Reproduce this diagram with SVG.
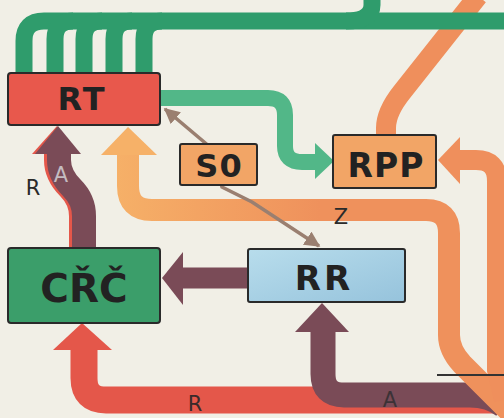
<svg xmlns="http://www.w3.org/2000/svg" width="504" height="418" viewBox="0 0 504 418">
<defs>
<style>
.gT{fill:none;stroke:#2f9c6c;stroke-width:17}
.gL{fill:none;stroke:#52b788;stroke-width:16}
.or{fill:none;stroke:#ef8f5c;stroke-width:20}
.br{fill:none;stroke:#7a4b57}
.rd{fill:none;stroke:#e4574a}
.box{stroke:#2a2a2a;stroke-width:2}
.lbl{font-family:"DejaVu Sans","Liberation Sans",sans-serif;font-weight:bold;fill:#222;text-anchor:middle}
.sm{font-family:"DejaVu Sans","Liberation Sans",sans-serif;font-size:21px;text-anchor:middle}
</style>
<linearGradient id="og" gradientUnits="userSpaceOnUse" x1="110" y1="0" x2="320" y2="0">
<stop offset="0" stop-color="#f6b168"/><stop offset="1" stop-color="#ef915c"/>
</linearGradient>
<linearGradient id="bl" x1="0" y1="0" x2="1" y2="1">
<stop offset="0" stop-color="#b8ddec"/><stop offset="1" stop-color="#96c3dc"/>
</linearGradient>
<marker id="ah" viewBox="0 0 10 10" refX="9" refY="5" markerWidth="4.5" markerHeight="4.5" orient="auto-start-reverse" markerUnits="strokeWidth">
<path d="M0 0 L10 5 L0 10 z" fill="#9a7f70"/>
</marker>
</defs>
<rect width="504" height="418" fill="#f1efe6"/>
<g id="connectors">
<path class="or" stroke-width="17" d="M478 -4 L402 92 Q386 112 386 128 L386 137"/>
<path class="gT" d="M504 21 L44 21 Q24 21 24 41 L24 75"/>
<path class="gT" d="M55 75 L55 39 Q55 21 73 21"/>
<path class="gT" d="M84 75 L84 39 Q84 21 102 21"/>
<path class="gT" d="M114 75 L114 39 Q114 21 132 21"/>
<path class="gT" d="M144 75 L144 39 Q144 21 162 21"/>
<path class="gT" d="M346 21 Q372 21 372 5 L372 -3"/>
<path class="gL" d="M158 98 L268 98 Q285 98 285 115 L285 146 Q285 162 302 162 L318 162"/>
<polygon points="315,143 334,161 315,179" fill="#52b788"/>
<path class="rd" stroke-width="27" d="M84 348 L84 378 Q84 400 106 400 L504 400"/>
<polygon points="53,350 82,323 112,350" fill="#e4574a"/>
<path class="br" stroke-width="25" d="M323 330 L323 374 Q323 395 344 395 L470 395 Q490 395 504 406"/>
<polygon points="295,332 322,303 349,332" fill="#7a4b57"/>
<path class="br" stroke-width="21" d="M249 278 L180 278"/>
<polygon points="183,252 162,278 183,305" fill="#7a4b57"/>
<path class="rd" stroke-width="24" d="M81 249 L81 216 Q81 200 69 188 Q56 175 56 160 L56 150"/>
<polygon points="32,154 57,126 78,154" fill="#e4574a"/>
<path class="br" stroke-width="24" d="M84 249 L84 216 Q84 200 72 188 Q59 175 59 160 L59 150"/>
<polygon points="35,154 58,126 81,154" fill="#7a4b57"/>
<path fill="none" stroke="url(#og)" stroke-width="22" d="M128 150 L128 186 Q128 210 152 210 L426 210 Q449 210 449 233 L449 335 Q449 350 462 364 L510 412"/>
<polygon points="101,155 128,127 157,155" fill="#f6b168"/>
<path class="or" stroke-width="22" d="M456 160 L476 160 Q497 160 497 181 L497 370 L504 400"/>
<polygon points="460,137 438,160 460,184" fill="#ef8f5c"/>
<path d="M437 375 L504 375" stroke="#333" stroke-width="2"/>
<path d="M165 109 L210 147 L222 187 L252 202 L319 246" fill="none" stroke="#9a7f70" stroke-width="3.5" marker-start="url(#ah)" marker-end="url(#ah)"/>
</g>
<g id="labels">
<text class="sm" x="33" y="195" fill="#2a2a2a">R</text>
<text class="sm" x="61" y="182" fill="#c4bcc0">A</text>
<text class="sm" x="195" y="411" fill="#3a2a2a">R</text>
<text class="sm" x="390" y="407" fill="#3c3236">A</text>
<text class="sm" x="341" y="224" fill="#2a2a2a">Z</text>
</g>
<g id="RT">
<rect class="box" x="8" y="73" width="152" height="52" rx="3" fill="#e8584c"/>
<text class="lbl" x="82" y="110" font-size="32" letter-spacing="2">RT</text>
</g>
<g id="S0">
<rect class="box" x="180" y="144" width="77" height="41" rx="2" fill="#f2a566"/>
<text class="lbl" x="219" y="177" font-size="32" letter-spacing="1">S0</text>
</g>
<g id="RPP">
<rect class="box" x="333" y="135" width="103" height="53" rx="2" fill="#f2a566"/>
<text class="lbl" x="386" y="177" font-size="33" letter-spacing="1">RPP</text>
</g>
<g id="RR">
<rect class="box" x="248" y="249" width="157" height="53" rx="2" fill="url(#bl)"/>
<text class="lbl" x="324" y="290" font-size="34" letter-spacing="3">RR</text>
</g>
<g id="CRC">
<rect class="box" x="8" y="248" width="152" height="75" rx="3" fill="#3b9e6a"/>
<text class="lbl" x="84" y="302" font-size="39">CŘČ</text>
</g>
</svg>
